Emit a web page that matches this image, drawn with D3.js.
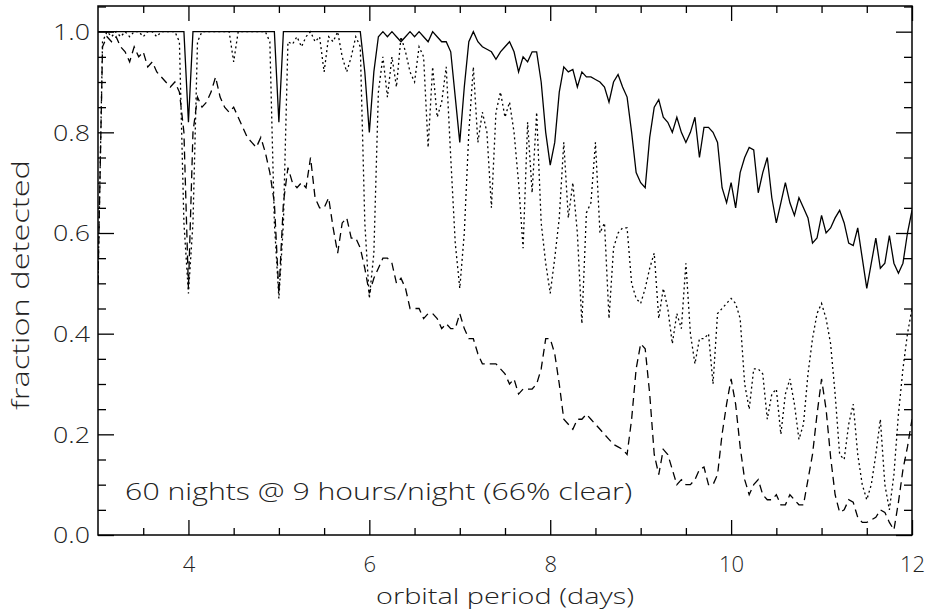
<!DOCTYPE html>
<html>
<head>
<meta charset="utf-8">
<script src="https://cdn.jsdelivr.net/npm/d3@7"></script>
<style>
	body { margin: 0; background: #fff; }
	text { font-family: "Open Sans", "DejaVu Sans", sans-serif; font-weight: 300; fill: #222; }
</style>
</head>
<body>
<svg id="chart"></svg>
<script>
var periods = [
	3.00,3.05,3.10,3.15,3.20,3.25,3.30,3.35,3.40,3.45,3.50,3.55,3.60,3.65,3.70,3.75,3.80,3.85,3.90,3.95,
	4.00,4.05,4.10,4.15,4.20,4.25,4.30,4.35,4.40,4.45,4.50,4.55,4.60,4.65,4.70,4.75,4.80,4.85,4.90,4.95,
	5.00,5.05,5.10,5.15,5.20,5.25,5.30,5.35,5.40,5.45,5.50,5.55,5.60,5.65,5.70,5.75,5.80,5.85,5.90,5.95,
	6.00,6.05,6.10,6.15,6.20,6.25,6.30,6.35,6.40,6.45,6.50,6.55,6.60,6.65,6.70,6.75,6.80,6.85,6.90,6.95,
	7.00,7.05,7.10,7.15,7.20,7.25,7.30,7.35,7.40,7.45,7.50,7.55,7.60,7.65,7.70,7.75,7.80,7.85,7.90,7.95,
	8.00,8.05,8.10,8.15,8.20,8.25,8.30,8.35,8.40,8.45,8.50,8.55,8.60,8.65,8.70,8.75,8.80,8.85,8.90,8.95,
	9.00,9.05,9.10,9.15,9.20,9.25,9.30,9.35,9.40,9.45,9.50,9.55,9.60,9.65,9.70,9.75,9.80,9.85,9.90,9.95,
	10.00,10.05,10.10,10.15,10.20,10.25,10.30,10.35,10.40,10.45,10.50,10.55,10.60,10.65,10.70,10.75,10.80,10.85,10.90,10.95,
	11.00,11.05,11.10,11.15,11.20,11.25,11.30,11.35,11.40,11.45,11.50,11.55,11.60,11.65,11.70,11.75,11.80,11.85,11.90,11.95,
	12.00
];

// solid curve
var solidFrac = [
	1,1,1,1,1,1,1,1,1,1,1,1,1,1,1,1,1,1,1,1,
	0.82,1,1,1,1,1,1,1,1,1,1,1,1,1,1,1,1,1,1,1,
	0.82,1,1,1,1,1,1,1,1,1,1,1,1,1,1,1,1,1,1,0.92,
	0.80,0.92,0.99,1.0,0.99,1.0,0.99,0.98,0.99,1.0,0.99,1.0,0.99,0.98,1.0,0.99,0.98,0.98,0.96,0.87,
	0.78,0.89,0.98,1.0,0.98,0.97,0.965,0.96,0.945,0.96,0.97,0.98,0.96,0.92,0.95,0.94,0.96,0.96,0.90,0.80,
	0.735,0.78,0.88,0.93,0.92,0.925,0.89,0.92,0.91,0.91,0.905,0.90,0.89,0.86,0.90,0.915,0.89,0.87,0.80,0.72,
	0.70,0.69,0.79,0.85,0.865,0.83,0.82,0.80,0.83,0.80,0.78,0.80,0.83,0.75,0.81,0.81,0.80,0.78,0.69,0.66,
	0.70,0.65,0.72,0.75,0.77,0.765,0.68,0.72,0.75,0.67,0.62,0.66,0.70,0.66,0.635,0.67,0.65,0.63,0.58,0.59,
	0.635,0.60,0.61,0.63,0.645,0.62,0.58,0.575,0.61,0.55,0.49,0.54,0.59,0.53,0.54,0.595,0.54,0.52,0.54,0.60,
	0.645
];

// dotted curve
var dottedFrac = [
	0.50,0.98,1.0,0.99,1.0,0.99,1.0,0.99,1.0,1.0,0.99,1.0,1.0,0.99,1.0,1.0,1.0,1.0,0.98,0.62,
	0.48,0.62,0.98,1.0,1.0,1.0,1.0,1.0,1.0,1.0,0.94,1.0,1.0,1.0,1.0,1.0,1.0,1.0,0.98,0.62,
	0.47,0.62,0.98,0.975,0.99,0.97,0.99,1.0,0.98,0.99,0.92,0.99,0.98,1.0,0.95,0.92,0.95,0.99,0.97,0.62,
	0.47,0.56,0.88,0.95,0.87,0.95,0.89,0.99,0.96,0.92,0.90,0.97,0.95,0.77,0.93,0.83,0.86,0.93,0.75,0.58,
	0.49,0.60,0.80,0.93,0.78,0.84,0.80,0.65,0.84,0.88,0.83,0.86,0.80,0.70,0.57,0.82,0.68,0.84,0.62,0.54,
	0.48,0.55,0.63,0.78,0.63,0.70,0.60,0.42,0.64,0.66,0.78,0.60,0.62,0.43,0.57,0.60,0.61,0.61,0.50,0.47,
	0.46,0.49,0.53,0.56,0.43,0.49,0.45,0.38,0.44,0.41,0.54,0.40,0.34,0.39,0.39,0.40,0.30,0.44,0.45,0.46,
	0.47,0.46,0.43,0.30,0.25,0.33,0.33,0.32,0.23,0.28,0.29,0.20,0.28,0.31,0.26,0.19,0.22,0.32,0.39,0.44,
	0.46,0.43,0.38,0.28,0.16,0.15,0.22,0.26,0.16,0.10,0.07,0.10,0.16,0.23,0.10,0.05,0.12,0.24,0.33,0.40,
	0.45
];

// dashed curve
var dashedFrac = [
	0.50,0.97,0.99,0.98,0.99,0.97,0.96,0.94,0.97,0.95,0.96,0.93,0.94,0.92,0.91,0.90,0.89,0.90,0.88,0.80,
	0.49,0.80,0.87,0.85,0.86,0.88,0.91,0.87,0.85,0.84,0.85,0.83,0.81,0.79,0.78,0.77,0.79,0.76,0.72,0.66,
	0.48,0.66,0.73,0.70,0.69,0.70,0.69,0.75,0.67,0.65,0.65,0.67,0.61,0.56,0.62,0.63,0.59,0.59,0.57,0.53,
	0.48,0.51,0.53,0.55,0.55,0.54,0.50,0.51,0.49,0.45,0.45,0.45,0.43,0.44,0.44,0.43,0.41,0.42,0.41,0.41,
	0.44,0.41,0.39,0.39,0.36,0.34,0.34,0.34,0.34,0.33,0.32,0.30,0.31,0.28,0.29,0.29,0.29,0.30,0.33,0.39,
	0.39,0.36,0.30,0.23,0.22,0.21,0.23,0.23,0.24,0.23,0.22,0.21,0.20,0.19,0.18,0.175,0.17,0.16,0.23,0.33,
	0.38,0.37,0.28,0.16,0.12,0.17,0.16,0.13,0.10,0.11,0.10,0.10,0.11,0.13,0.135,0.10,0.10,0.12,0.20,0.26,
	0.31,0.26,0.175,0.11,0.08,0.10,0.11,0.08,0.07,0.07,0.08,0.06,0.06,0.08,0.07,0.06,0.06,0.11,0.16,0.24,
	0.31,0.25,0.155,0.08,0.045,0.05,0.07,0.065,0.035,0.025,0.025,0.03,0.035,0.05,0.045,0.025,0.01,0.065,0.13,0.175,
	0.23
];

var xMajor = [4, 6, 8, 10, 12];
var xMinor = [3.5, 4.5, 5, 5.5, 6.5, 7, 7.5, 8.5, 9, 9.5, 10.5, 11, 11.5];
var yMajor = [0.0, 0.2, 0.4, 0.6, 0.8, 1.0];
var yMinor = [0.05, 0.1, 0.15, 0.25, 0.3, 0.35, 0.45, 0.5, 0.55, 0.65, 0.7, 0.75, 0.85, 0.9, 0.95, 1.05];

var note = "60 nights @ 9 hours/night (66% clear)";
var xTitle = "orbital period (days)";
var yTitle = "fraction detected";

var W = 928, H = 612;
var margin = {top: 6, right: 16, bottom: 77, left: 98};
var w = W - margin.left - margin.right;
var h = H - margin.top - margin.bottom;

var svg = d3.select('#chart')
	.attr('width', W)
	.attr('height', H);

var g = svg.append('g')
	.attr('transform', 'translate(' + margin.left + ',' + margin.top + ')');

var x = d3.scaleLinear().domain([3, 12]).range([0, w]);
var y = d3.scaleLinear().domain([0, 1.051]).range([h, 0]);

g.append('clipPath')
	.attr('id', 'clip')
	.append('rect')
	.attr('width', w)
	.attr('height', h);

function curve(vals, dash) {
	var line = d3.line()
		.x(function(d, i) { return x(periods[i]); })
		.y(function(d) { return y(d); });
	g.append('path')
		.datum(vals)
		.attr('clip-path', 'url(#clip)')
		.attr('fill', 'none')
		.attr('stroke', '#000')
		.attr('stroke-width', 1.3)
		.attr('stroke-dasharray', dash)
		.attr('d', line);
}

curve(dashedFrac, '8,5');
curve(dottedFrac, '2,3');
curve(solidFrac, null);

// IDL style axes: ticks inside on all four sides
function ticks(vals, len, labels) {
	g.append('g')
		.attr('class', 'xbottom')
		.attr('transform', 'translate(0,' + h + ')')
		.call(d3.axisBottom(x).tickValues(vals).tickSizeInner(-len).tickSizeOuter(0)
			.tickFormat(labels ? d3.format('d') : ''))
		.call(function(a) { a.select('.domain').remove(); });
	g.append('g')
		.call(d3.axisTop(x).tickValues(vals).tickSizeInner(-len).tickSizeOuter(0).tickFormat(''))
		.call(function(a) { a.select('.domain').remove(); });
}
ticks(xMajor, 15, true);
ticks(xMinor, 7, false);

function yticks(vals, len, labels) {
	g.append('g')
		.attr('class', 'yleft')
		.call(d3.axisLeft(y).tickValues(vals).tickSizeInner(-len).tickSizeOuter(0)
			.tickFormat(labels ? d3.format('.1f') : ''))
		.call(function(a) { a.select('.domain').remove(); });
	g.append('g')
		.attr('transform', 'translate(' + w + ',0)')
		.call(d3.axisRight(y).tickValues(vals).tickSizeInner(-len).tickSizeOuter(0).tickFormat(''))
		.call(function(a) { a.select('.domain').remove(); });
}
yticks(yMajor, 16, true);
yticks(yMinor, 8, false);

g.selectAll('.tick line')
	.attr('stroke', '#000')
	.attr('stroke-width', 1.3);

g.selectAll('.tick text')
	.attr('fill', '#222')
	.attr('font-size', 22);

g.selectAll('.xbottom .tick text')
	.attr('y', 21)
	.attr('dy', '0.71em');
g.selectAll('.yleft .tick text')
	.attr('x', -8)
	.attr('dy', '0.36em')
	.attr('textLength', 37)
	.attr('lengthAdjust', 'spacingAndGlyphs');

g.append('rect')
	.attr('width', w)
	.attr('height', h)
	.attr('fill', 'none')
	.attr('stroke', '#000')
	.attr('stroke-width', 1.5);

g.append('text')
	.attr('x', x(3.3))
	.attr('y', y(0.07))
	.attr('font-size', 23)
	.attr('textLength', 507)
	.attr('lengthAdjust', 'spacingAndGlyphs')
	.text(note);

svg.append('text')
	.attr('x', margin.left + w / 2)
	.attr('y', 604)
	.attr('text-anchor', 'middle')
	.attr('font-size', 22)
	.attr('textLength', 258)
	.attr('lengthAdjust', 'spacingAndGlyphs')
	.text(xTitle);

svg.append('text')
	.attr('transform', 'translate(29,285) rotate(-90)')
	.attr('text-anchor', 'middle')
	.attr('font-size', 23)
	.attr('textLength', 250)
	.attr('lengthAdjust', 'spacingAndGlyphs')
	.text(yTitle);
</script>
</body>
</html>
